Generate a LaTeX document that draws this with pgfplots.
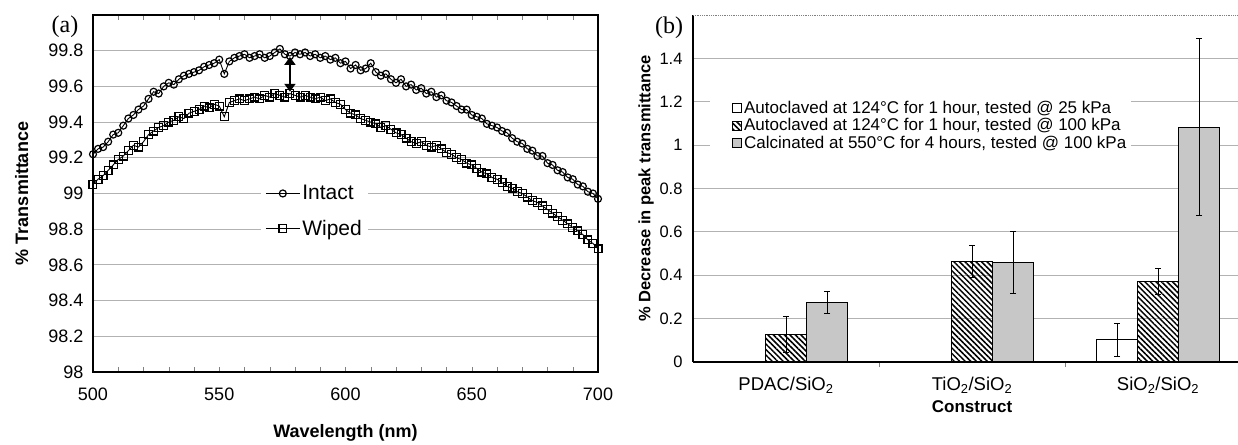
\documentclass[border=0pt]{standalone}
\usepackage{pgfplots}
\pgfplotsset{compat=1.18}
\usepackage{fontspec}
\setmainfont{Liberation Sans}
\newfontfamily\tnr{Liberation Serif}
\usetikzlibrary{patterns.meta,arrows.meta}

\pgfplotstableread{
w T
500 99.22
502 99.25
504 99.26
506 99.29
508 99.33
510 99.34
512 99.38
514 99.42
516 99.44
518 99.47
520 99.49
522 99.53
524 99.57
526 99.56
528 99.60
530 99.62
532 99.61
534 99.64
536 99.66
538 99.67
540 99.68
542 99.69
544 99.71
546 99.72
548 99.73
550 99.75
552 99.67
554 99.74
556 99.76
558 99.77
560 99.78
562 99.76
564 99.77
566 99.78
568 99.76
570 99.77
572 99.79
574 99.81
576 99.78
578 99.77
580 99.79
582 99.78
584 99.79
586 99.77
588 99.78
590 99.76
592 99.77
594 99.75
596 99.76
598 99.73
600 99.74
602 99.70
604 99.72
606 99.69
608 99.70
610 99.73
612 99.68
614 99.66
616 99.67
618 99.64
620 99.62
622 99.64
624 99.60
626 99.61
628 99.58
630 99.59
632 99.56
634 99.57
636 99.54
638 99.55
640 99.52
642 99.51
644 99.49
646 99.47
648 99.47
650 99.44
652 99.43
654 99.42
656 99.39
658 99.38
660 99.37
662 99.35
664 99.34
666 99.31
668 99.29
670 99.28
672 99.25
674 99.24
676 99.21
678 99.21
680 99.17
682 99.16
684 99.13
686 99.12
688 99.09
690 99.08
692 99.05
694 99.04
696 99.01
698 99.00
700 98.97
}\intact

\pgfplotstableread{
w T
500 99.05
502 99.08
504 99.10
506 99.13
508 99.16
510 99.19
512 99.21
514 99.24
516 99.27
518 99.26
520 99.29
522 99.33
524 99.35
526 99.37
528 99.38
530 99.40
532 99.41
534 99.43
536 99.42
538 99.45
540 99.46
542 99.47
544 99.49
546 99.48
548 99.50
550 99.49
552 99.43
554 99.51
556 99.52
558 99.53
560 99.52
562 99.53
564 99.54
566 99.53
568 99.55
570 99.54
572 99.56
574 99.55
576 99.54
578 99.56
580 99.55
582 99.54
584 99.55
586 99.54
588 99.53
590 99.54
592 99.52
594 99.53
596 99.51
598 99.50
600 99.47
602 99.45
604 99.44
606 99.42
608 99.41
610 99.40
612 99.39
614 99.37
616 99.38
618 99.36
620 99.34
622 99.33
624 99.31
626 99.29
628 99.28
630 99.29
632 99.27
634 99.26
636 99.27
638 99.25
640 99.23
642 99.22
644 99.20
646 99.19
648 99.17
650 99.16
652 99.14
654 99.12
656 99.11
658 99.09
660 99.08
662 99.06
664 99.04
666 99.03
668 99.01
670 99.00
672 98.98
674 98.96
676 98.95
678 98.93
680 98.91
682 98.89
684 98.87
686 98.85
688 98.83
690 98.81
692 98.79
694 98.77
696 98.74
698 98.72
700 98.69
}\wiped

\begin{document}
\begin{tikzpicture}
\useasboundingbox (0,0) rectangle (1238pt,444pt);

% (a) transmittance spectra
\begin{axis}[
    at={(93pt,72pt)}, anchor=south west,
    scale only axis, width=505pt, height=357pt,
    xmin=500, xmax=700, ymin=98, ymax=100,
    xtick={500,550,600,650,700}, minor x tick num=4,
    ytick={98,98.2,98.4,98.6,98.8,99,99.2,99.4,99.6,99.8},
    ymajorgrids, grid style={gray!60, line width=0.8pt},
    tick align=inside, major tick length=5pt, minor tick length=5pt,
    ytick style={draw=none},
    axis line style={line width=1.2pt},
    /pgf/number format/assume math mode=true,
    tick label style={font=\fontsize{18}{20}\selectfont},
    yticklabel style={xshift=-6pt},
    xticklabel style={yshift=-12pt},
    xlabel={\bfseries Wavelength (nm)},
    ylabel={\bfseries \% Transmittance},
    every axis x label/.style={at={(axis description cs:0.5,-0.171)}, anchor=center,
        font=\fontsize{18}{20}\selectfont},
    every axis y label/.style={at={(axis description cs:-0.141,0.5)}, anchor=center, rotate=90,
        font=\fontsize{18}{20}\selectfont},
    legend image code/.code={\draw[mark repeat=2, mark phase=2, #1] plot coordinates {(0pt,0pt) (17pt,0pt) (34pt,0pt)};},
    legend style={at={(axis description cs:0.333,0.537)}, anchor=north west,
        draw=none, fill=white, font=\fontsize{21}{23}\selectfont,
        row sep=15pt, inner xsep=4pt, inner ysep=3pt},
    legend cell align=left,
]
\addplot[black, line width=0.9pt, mark=o, mark size=3.5pt,
    mark options={line width=1.2pt}] table[x=w, y=T] {\intact};
\addlegendentry{Intact}
\addplot[black, line width=0.9pt, mark=square, mark size=3.9pt,
    mark options={line width=1.2pt}] table[x=w, y=T] {\wiped};
\addlegendentry{Wiped}
\draw[{Triangle[width=11pt,length=8pt]}-{Triangle[width=11pt,length=8pt]}, line width=2.6pt]
    (axis cs:578,99.57) -- (axis cs:578,99.765);
\end{axis}
\node[font=\tnr\fontsize{24}{26}\selectfont] at (65pt,417pt) {(a)};

% (b) decrease in peak transmittance
\begin{axis}[
    at={(693pt,82pt)}, anchor=south west,
    scale only axis, width=545pt, height=347pt,
    xmin=-0.5, xmax=2.43, ymin=0, ymax=1.6,
    axis x line*=bottom, axis y line*=left,
    axis line style={-, line width=1.2pt},
    xtick={0,1,2},
    xticklabels={PDAC/SiO\textsubscript{2}, TiO\textsubscript{2}/SiO\textsubscript{2}, SiO\textsubscript{2}/SiO\textsubscript{2}},
    minor xtick={0.5,1.5},
    major x tick style={draw=none},
    minor tick length=5pt, tick align=inside,
    ytick={0,0.2,0.4,0.6,0.8,1,1.2,1.4},
    ytick style={draw=none},
    ymajorgrids, grid style={gray!60, line width=0.8pt},
    /pgf/number format/assume math mode=true,
    yticklabel style={xshift=-7pt, font=\fontsize{16.5}{18}\selectfont},
    xticklabel style={yshift=-7pt, font=\fontsize{18.5}{20}\selectfont},
    xlabel={\bfseries Construct},
    ylabel={\bfseries \% Decrease in peak transmittance},
    every axis x label/.style={at={(axis description cs:0.512,-0.13)}, anchor=center,
        font=\fontsize{17}{19}\selectfont},
    every axis y label/.style={at={(axis description cs:-0.086,0.5)}, anchor=center, rotate=90,
        font=\fontsize{16.5}{18}\selectfont},
    ybar=0pt, bar width=41pt,
    sq/.style={legend image code/.code={\path (0pt,0pt); \draw[#1, line width=0.8pt] (19pt,-4.5pt) rectangle (28pt,4.5pt);}},
    error bars/y dir=both, error bars/y explicit,
    error bars/error bar style={line width=0.8pt, black},
    error bars/error mark options={rotate=90, mark size=3pt, line width=0.8pt, black},
    legend style={at={(axis description cs:0.031,0.769)}, anchor=north west,
        draw=none, fill=white, font=\fontsize{17}{18.5}\selectfont,
        row sep=-0.5pt, inner xsep=3pt, inner ysep=4pt},
    legend cell align=left,
]
\draw[densely dotted, gray, line width=0.8pt] (rel axis cs:0,1) -- (rel axis cs:1,1);
\addplot[sq, draw=black, fill=white, line width=1.2pt]
    coordinates {(2,0.102) +- (0,0.075)};
\addlegendentry{Autoclaved at 124°C for 1 hour, tested @ 25 kPa}
\addplot[sq, draw=black, line width=1.2pt, pattern={Lines[angle=-45,distance=3.9pt,line width=1.5pt]}]
    coordinates {(0,0.128) +- (0,0.082) (1,0.464) +- (0,0.072) (2,0.372) +- (0,0.060)};
\addlegendentry{Autoclaved at 124°C for 1 hour, tested @ 100 kPa}
\addplot[sq, draw=black, fill=black!22, line width=1.2pt]
    coordinates {(0,0.275) +- (0,0.052) (1,0.460) +- (0,0.142) (2,1.082) +- (0,0.408)};
\addlegendentry{Calcinated at 550°C for 4 hours, tested @ 100 kPa}
\end{axis}
\node[font=\tnr\fontsize{24}{26}\selectfont] at (669pt,416pt) {(b)};
\end{tikzpicture}
\end{document}
